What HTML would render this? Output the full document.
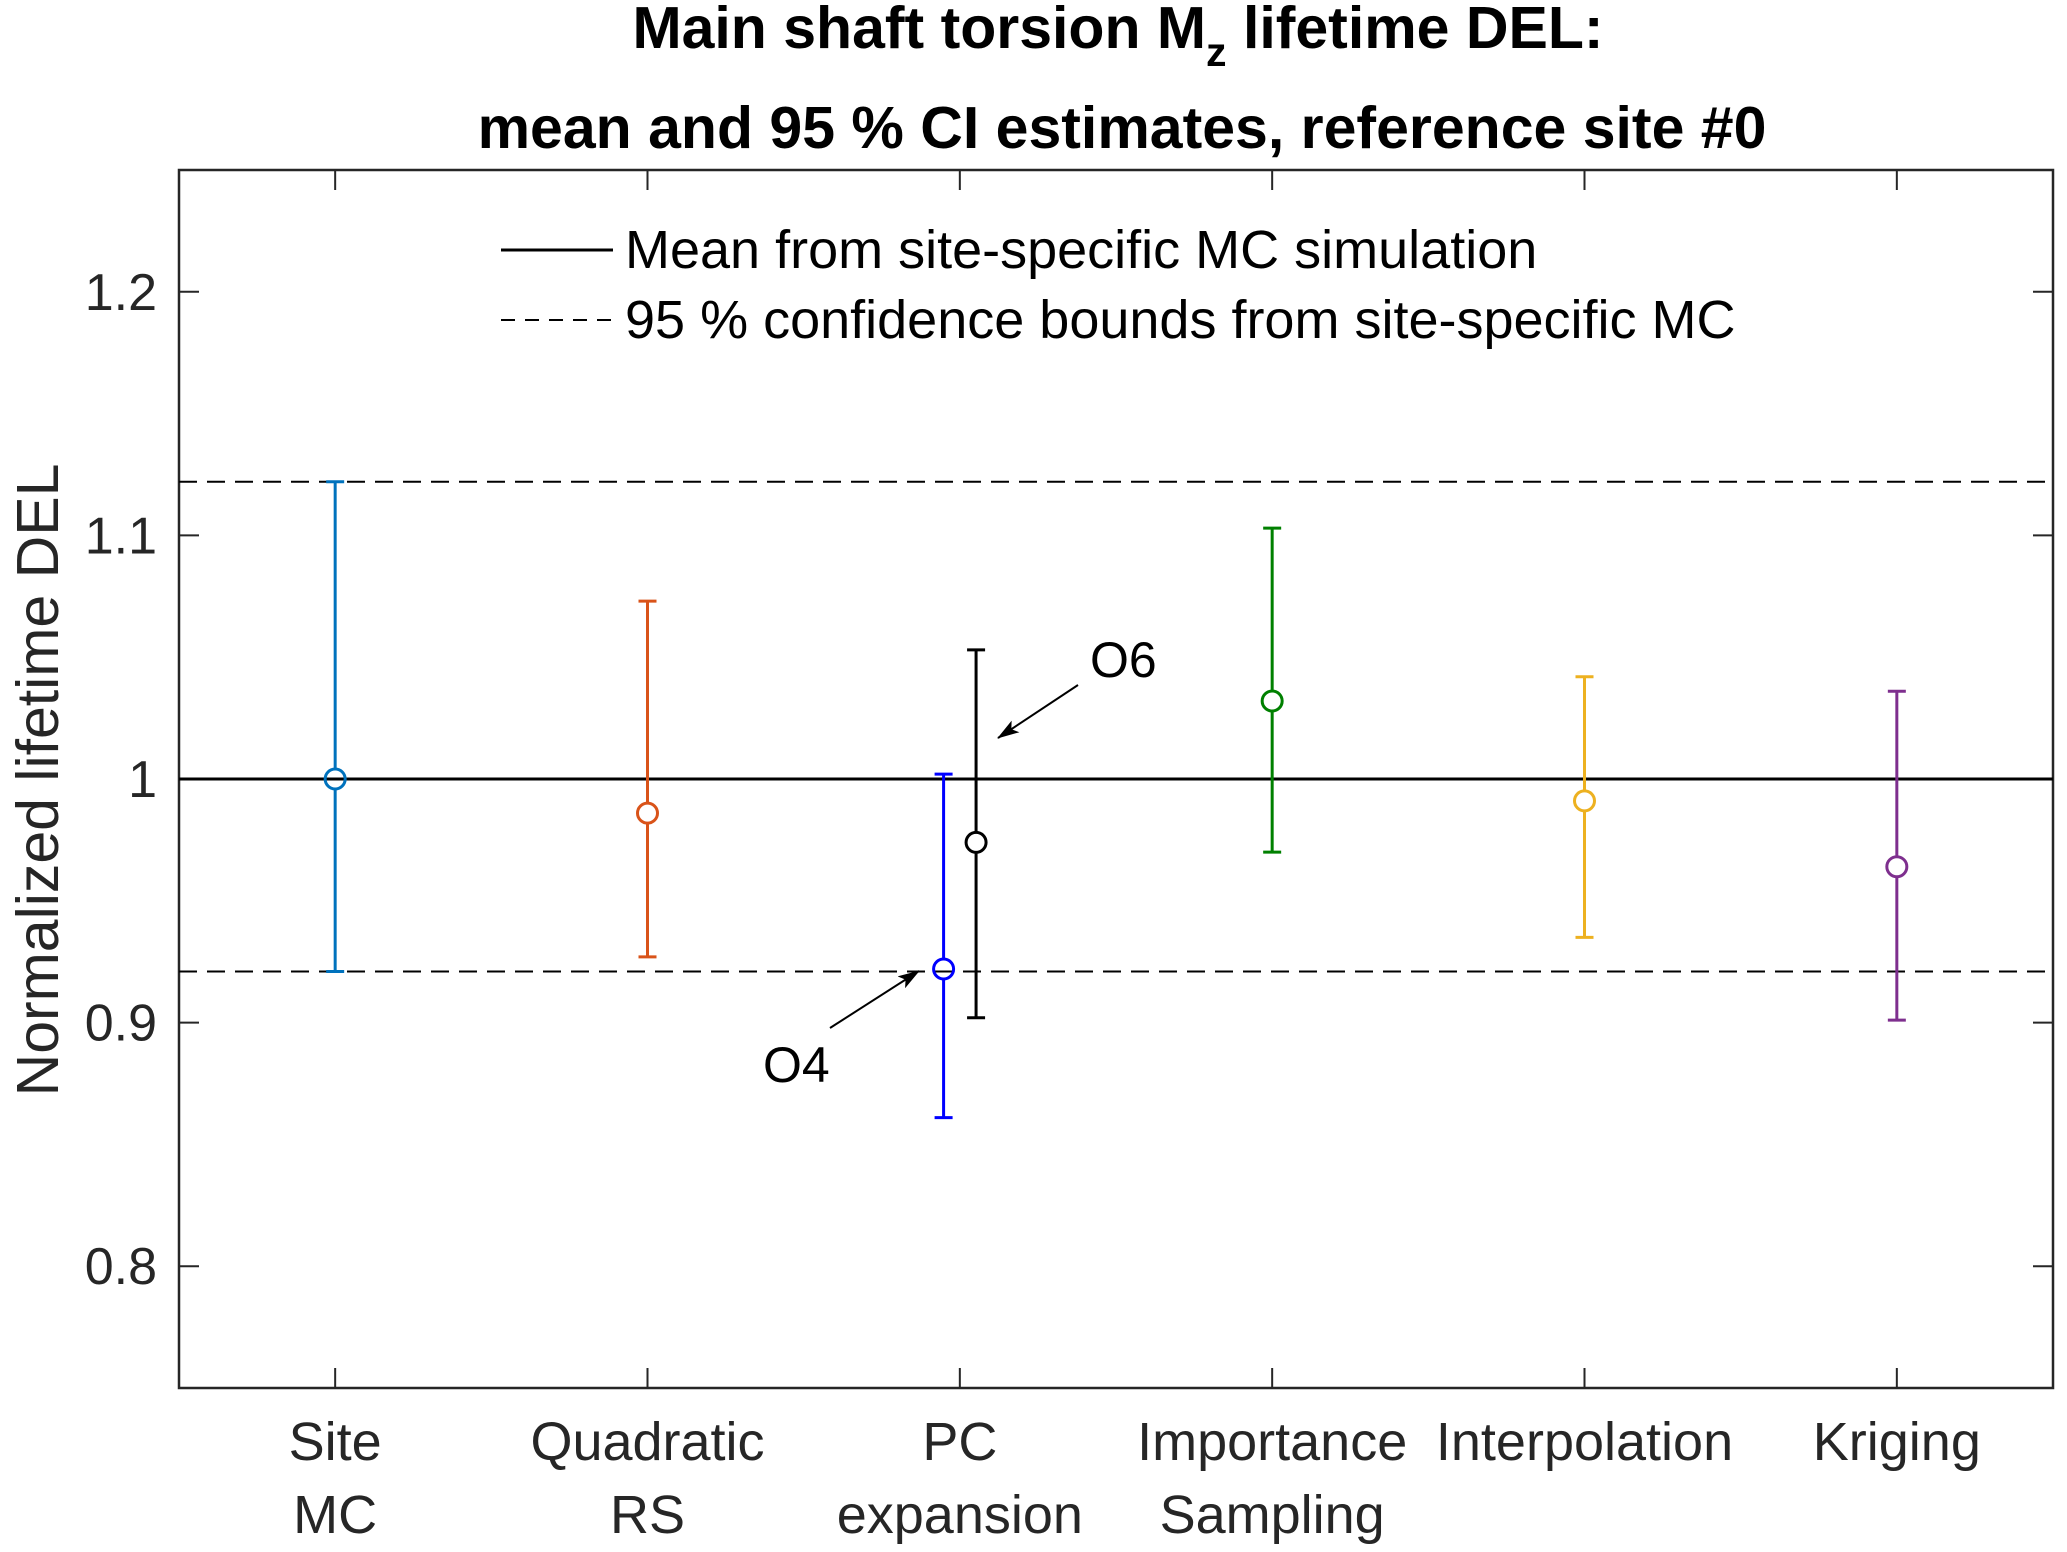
<!DOCTYPE html>
<html><head><meta charset="utf-8"><style>
body{margin:0;background:#fff}
svg{display:block;font-family:"Liberation Sans",Arial,sans-serif}
</style></head><body>
<svg id="chart" width="2067" height="1552" viewBox="0 0 2067 1552">
<text x="1118" y="48" font-size="59" font-weight="bold" text-anchor="middle" fill="#000">Main shaft torsion M<tspan font-size="41" dy="18">z</tspan><tspan dy="-18"> lifetime DEL:</tspan></text>
<text x="1122" y="148" font-size="59" font-weight="bold" text-anchor="middle" fill="#000">mean and 95 % CI estimates, reference site #0</text>
<g id="plot"></g>
<text transform="translate(58,780) rotate(-90)" font-size="59" text-anchor="middle" fill="#262626">Normalized lifetime DEL</text>
<g>
<line x1="501" y1="250" x2="613" y2="250" stroke="#000" stroke-width="3"/>
<text x="625" y="268" font-size="54" fill="#000">Mean from site-specific MC simulation</text>
<line x1="501" y1="320" x2="613" y2="320" stroke="#000" stroke-width="2" stroke-dasharray="14,10"/>
<text x="625" y="338" font-size="54" fill="#000">95 % confidence bounds from site-specific MC</text>
</g>
</svg>
<script>
const categories=[["Site","MC"],["Quadratic","RS"],["PC","expansion"],["Importance","Sampling"],["Interpolation"],["Kriging"]];
const seriesNames=["Site MC","Quadratic RS","PC O4","PC O6","Importance Sampling","Interpolation","Kriging"];
const seriesX=[1,2,2.948,3.052,4,5,6];
const seriesMean=[1.000,0.986,0.922,0.974,1.032,0.991,0.964];
const seriesUpper=[1.122,1.073,1.002,1.053,1.103,1.042,1.036];
const seriesLower=[0.921,0.927,0.861,0.902,0.970,0.935,0.901];
const seriesColors=["#0072BD","#D95319","#0000FF","#000000","#008000","#EDB120","#7E2F8E"];
const yTicks=[0.8,0.9,1,1.1,1.2];
const yTickLabels=["0.8","0.9","1","1.1","1.2"];
const meanRef=1.0;
const boundsRef=[1.122,0.921];

const L=179,R=2053,T=170,B=1388;
const xMin=0.5,xMax=6.5,yMin=0.75,yMax=1.25;
const xs=v=>L+(v-xMin)/(xMax-xMin)*(R-L);
const ys=v=>B-(v-yMin)/(yMax-yMin)*(B-T);
const NS="http://www.w3.org/2000/svg";
const g=document.getElementById('plot');
function mk(tag,attrs,parent){const e=document.createElementNS(NS,tag);for(const k in attrs)e.setAttribute(k,attrs[k]);(parent||g).appendChild(e);return e;}

const box=mk('rect',{x:L,y:T,width:R-L,height:B-T,fill:'none',stroke:'#262626','stroke-width':2.5});


yTicks.forEach((v,i)=>{
 const t=mk('line',{x1:L,x2:L+20,y1:ys(v),y2:ys(v),stroke:'#262626','stroke-width':2});
 
 
 const t2=mk('line',{x1:R,x2:R-20,y1:ys(v),y2:ys(v),stroke:'#262626','stroke-width':2});
 
 
 const lb=mk('text',{x:157,y:ys(v)+18,'font-size':52,'text-anchor':'end',fill:'#262626'});
 lb.textContent=yTickLabels[i];
 
 
});
categories.forEach((c,i)=>{
 const x=xs(i+1);
 const t=mk('line',{x1:x,x2:x,y1:B,y2:B-20,stroke:'#262626','stroke-width':2});
 
 
 const t2=mk('line',{x1:x,x2:x,y1:T,y2:T+20,stroke:'#262626','stroke-width':2});
 
 
 c.forEach((line,j)=>{
  const lb=mk('text',{x:x,y:1460+j*73,'font-size':54,'text-anchor':'middle',fill:'#262626'});
  lb.textContent=line;
  
  
 });
});
const ml=mk('line',{x1:L,x2:R,y1:ys(meanRef),y2:ys(meanRef),stroke:'#000','stroke-width':3});


boundsRef.forEach(v=>{
 const d=mk('line',{x1:L,x2:R,y1:ys(v),y2:ys(v),stroke:'#000','stroke-width':2,'stroke-dasharray':'18,10'});
 
 
});
seriesMean.forEach((m,i)=>{
 const x=xs(seriesX[i]),c=seriesColors[i];
 const grp=mk('g',{stroke:c,'stroke-width':3,fill:'none'});
 
 
 mk('line',{x1:x,x2:x,y1:ys(seriesUpper[i]),y2:ys(m)-10},grp);
 mk('line',{x1:x,x2:x,y1:ys(m)+10,y2:ys(seriesLower[i])},grp);
 mk('line',{x1:x-9,x2:x+9,y1:ys(seriesUpper[i]),y2:ys(seriesUpper[i])},grp);
 mk('line',{x1:x-9,x2:x+9,y1:ys(seriesLower[i]),y2:ys(seriesLower[i])},grp);
 mk('circle',{cx:x,cy:ys(m),r:10},grp);
});
const defs=mk('defs',{});
const mkr=mk('marker',{id:'ah',markerWidth:22,markerHeight:14,refX:21,refY:7,orient:'auto',markerUnits:'userSpaceOnUse'},defs);
mk('path',{d:'M0,0 L22,7 L0,14 L5,7 z',fill:'#000'},mkr);
const a6=mk('line',{x1:1078,y1:685,x2:998,y2:738,stroke:'#000','stroke-width':2,'marker-end':'url(#ah)'});


const t6=mk('text',{x:1090,y:677,'font-size':50,fill:'#000'});t6.textContent='O6';


const a4=mk('line',{x1:830,y1:1028,x2:919,y2:971,stroke:'#000','stroke-width':2,'marker-end':'url(#ah)'});


const t4=mk('text',{x:763,y:1082,'font-size':50,fill:'#000'});t4.textContent='O4';


</script>
</body></html>
